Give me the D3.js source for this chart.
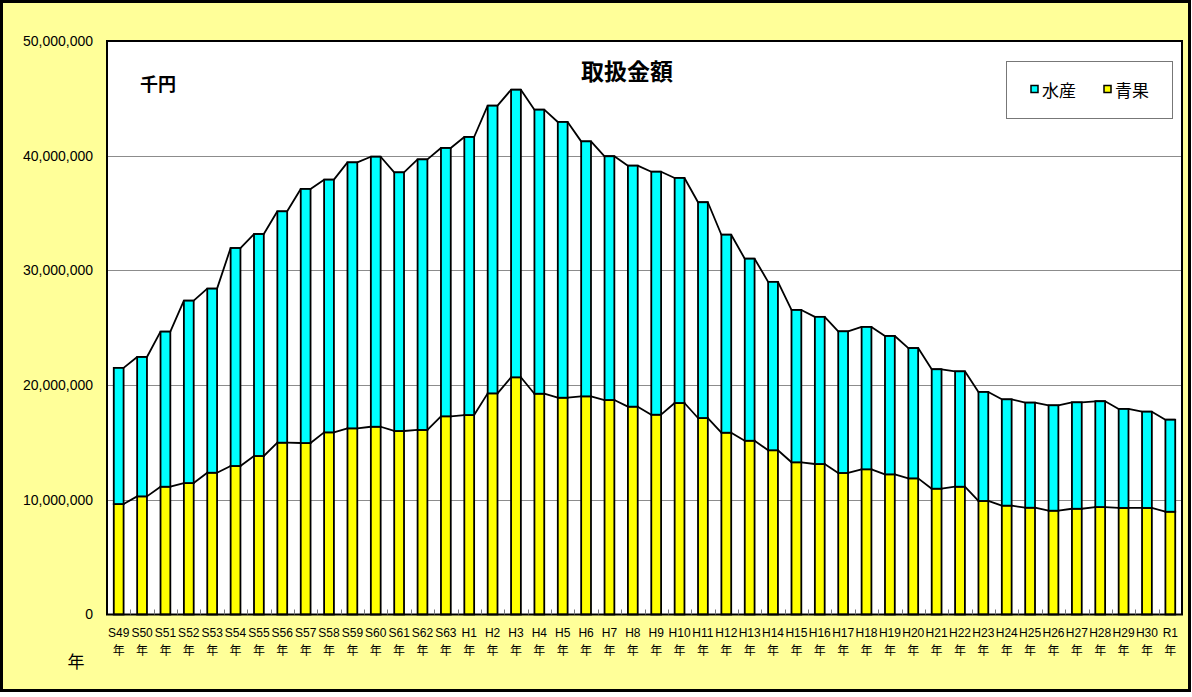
<!DOCTYPE html>
<html lang="ja">
<head>
  <meta charset="UTF-8">
  <title>取扱金額</title>
  <script src="https://cdn.jsdelivr.net/npm/d3@7"></script>
  <style>
    html, body { margin: 0; padding: 0; background: #fff; }
    svg { display: block; font-family: "Liberation Sans", Arial, "Noto Sans CJK JP", sans-serif; }
  </style>
</head>
<body>
<svg id="svg" width="1192" height="697"></svg>
<script>
  // 年度ラベル
  const years = ["S49","S50","S51","S52","S53","S54","S55","S56","S57","S58","S59","S60","S61","S62","S63",
    "H1","H2","H3","H4","H5","H6","H7","H8","H9","H10","H11","H12","H13","H14","H15","H16","H17","H18",
    "H19","H20","H21","H22","H23","H24","H25","H26","H27","H28","H29","H30","R1"];

  // 青果（千円）
  const seika = [9630000,10300000,11140000,11460000,12360000,12950000,13820000,14980000,14950000,15880000,
    16230000,16370000,16000000,16090000,17280000,17390000,19280000,20680000,19250000,18900000,19020000,
    18700000,18120000,17420000,18440000,17130000,15850000,15150000,14320000,13270000,13120000,12340000,
    12660000,12220000,11870000,10970000,11140000,9900000,9490000,9310000,9050000,9220000,9370000,9290000,
    9290000,8960000];

  // 水産（千円）
  const suisan = [11870000,12150000,13520000,15900000,16050000,19000000,19350000,20170000,22150000,22030000,
    23190000,23540000,22550000,23590000,23390000,24240000,25080000,25070000,24760000,24040000,22230000,
    21250000,21010000,21180000,19620000,18810000,17260000,15870000,14680000,13280000,12830000,12350000,
    12410000,12060000,11360000,10410000,10060000,9500000,9270000,9160000,9190000,9280000,9220000,8630000,
    8390000,8020000];

  const yTicks = [0, 10000000, 20000000, 30000000, 40000000, 50000000];

  const svg = d3.select("#svg");
  const plot = { left: 107, right: 1182, top: 41, bottom: 614.5 };

  // 外枠
  svg.append("rect")
    .attr("x", 1.5).attr("y", 1.5)
    .attr("width", 1188).attr("height", 689)
    .attr("fill", "#ffff99")
    .attr("stroke", "#000").attr("stroke-width", 3);

  // プロットエリア
  svg.append("rect")
    .attr("x", plot.left).attr("y", plot.top)
    .attr("width", plot.right - plot.left).attr("height", plot.bottom - plot.top)
    .attr("fill", "#fff");

  const x = d3.scaleBand().domain(years).range([plot.left, plot.right]);
  const y = d3.scaleLinear().domain([0, 50000000]).range([plot.bottom, plot.top]);

  // グリッド線
  svg.append("g")
    .selectAll("line")
    .data(yTicks.slice(1, -1))
    .enter()
    .append("line")
    .attr("x1", plot.left).attr("x2", plot.right)
    .attr("y1", d => Math.round(y(d)) + 0.5).attr("y2", d => Math.round(y(d)) + 0.5)
    .attr("stroke", "#8c8c8c").attr("stroke-width", 1);

  // 積み上げ
  const rows = years.map((yr, i) => ({ year: yr, seika: seika[i], suisan: suisan[i] }));
  const stacked = d3.stack().keys(["seika", "suisan"])(rows);
  const colors = { seika: "#ffff00", suisan: "#00ffff" };
  const barW = x.bandwidth() * 0.42;
  const barX = d => x(d.data.year) + (x.bandwidth() - barW) / 2;

  // 系列線
  const lineGroup = svg.append("g");
  stacked.forEach(layer => {
    const pts = [];
    layer.forEach(d => {
      pts.push([barX(d), y(d[1])]);
      pts.push([barX(d) + barW, y(d[1])]);
    });
    lineGroup.append("path")
      .attr("d", d3.line()(pts))
      .attr("fill", "none")
      .attr("stroke", "#000")
      .attr("stroke-width", 1.8)
      .attr("stroke-linejoin", "round");
  });

  svg.append("g")
    .selectAll("g")
    .data(stacked)
    .enter()
    .append("g")
    .attr("fill", d => colors[d.key])
    .selectAll("rect")
    .data(d => d)
    .enter()
    .append("rect")
    .attr("x", barX)
    .attr("y", d => y(d[1]))
    .attr("width", barW)
    .attr("height", d => y(d[0]) - y(d[1]))
    .attr("stroke", "#000")
    .attr("stroke-width", 1.8);

  // 枠線
  svg.append("rect")
    .attr("x", plot.left).attr("y", plot.top)
    .attr("width", plot.right - plot.left).attr("height", plot.bottom - plot.top)
    .attr("fill", "none")
    .attr("stroke", "#000").attr("stroke-width", 2);

  // X軸目盛り（内向き）
  svg.append("g")
    .selectAll("line")
    .data(years.slice(1))
    .enter()
    .append("line")
    .attr("x1", d => Math.round(x(d)) + 0.5).attr("x2", d => Math.round(x(d)) + 0.5)
    .attr("y1", plot.bottom).attr("y2", plot.bottom - 5)
    .attr("stroke", "#777").attr("stroke-width", 1);

  // Y軸
  const yAxis = svg.append("g")
    .attr("transform", `translate(${plot.left - 14},0)`)
    .call(d3.axisLeft(y).tickValues(yTicks).tickFormat(d3.format(",")).tickSize(0).tickPadding(0));
  yAxis.select(".domain").remove();
  yAxis.selectAll("text")
    .attr("font-size", 14)
    .attr("font-family", "Liberation Sans, Arial, sans-serif")
    .attr("fill", "#000");

  // X軸
  const xAxis = svg.append("g")
    .attr("transform", `translate(0,${plot.bottom})`)
    .call(d3.axisBottom(x).tickSize(0));
  xAxis.select(".domain").remove();
  xAxis.selectAll(".tick text").remove();
  const xt = xAxis.selectAll(".tick")
    .append("text")
    .attr("fill", "#000")
    .attr("text-anchor", "middle")
    .attr("font-size", 12);
  xt.append("tspan").attr("x", 0).attr("y", 22).text(d => d);
  xt.append("tspan").attr("x", 0).attr("y", 40)
    .attr("font-family", "Noto Sans CJK JP").attr("font-size", 12).text("年");

  // タイトル
  svg.append("text")
    .attr("x", 627).attr("y", 80)
    .attr("text-anchor", "middle")
    .attr("font-family", "Noto Sans CJK JP")
    .attr("font-weight", "bold")
    .attr("font-size", 23)
    .text("取扱金額");

  svg.append("text")
    .attr("x", 140).attr("y", 91)
    .attr("font-family", "Noto Sans CJK JP")
    .attr("font-weight", "bold")
    .attr("font-size", 18)
    .text("千円");

  svg.append("text")
    .attr("x", 76).attr("y", 668)
    .attr("text-anchor", "middle")
    .attr("font-family", "Noto Sans CJK JP")
    .attr("font-size", 17)
    .text("年");

  // 凡例
  const legend = svg.append("g");
  legend.append("rect")
    .attr("x", 1006.5).attr("y", 61.5)
    .attr("width", 166).attr("height", 57)
    .attr("fill", "#fff")
    .attr("stroke", "#777").attr("stroke-width", 1);
  const legendItems = [
    { label: "水産", key: "suisan", x: 1031 },
    { label: "青果", key: "seika", x: 1104 }
  ];
  const li = legend.selectAll("g.item")
    .data(legendItems)
    .enter()
    .append("g")
    .attr("class", "item");
  li.append("rect")
    .attr("x", d => d.x).attr("y", 85.5)
    .attr("width", 7).attr("height", 7)
    .attr("fill", d => colors[d.key])
    .attr("stroke", "#000").attr("stroke-width", 1.5);
  li.append("text")
    .attr("x", d => d.x + 11).attr("y", 97)
    .attr("font-family", "Noto Sans CJK JP")
    .attr("font-size", 17)
    .text(d => d.label);
</script>
</body>
</html>
